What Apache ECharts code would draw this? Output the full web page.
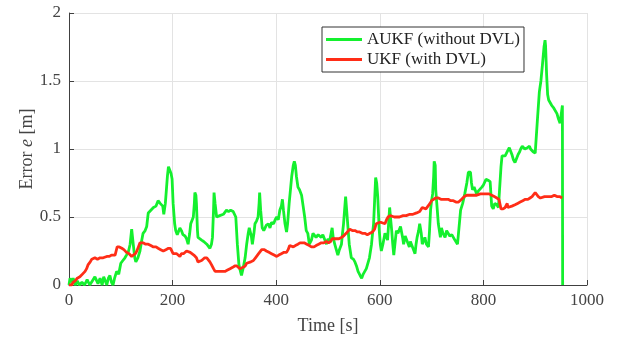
<!DOCTYPE html>
<html>
<head>
<meta charset="utf-8">
<script src="https://cdn.jsdelivr.net/npm/echarts@6/dist/echarts.min.js"></script>
<style>
  html, body { margin: 0; padding: 0; background: #fff; }
  #chart { width: 622px; height: 337px; }
</style>
</head>
<body>
<div id="chart"></div>
<script>
// AUKF (without DVL): time [s] and error [m]
const aukfT = [0, 2, 5, 8, 12, 16, 20, 25, 30, 35, 40, 45, 50, 53, 56, 60, 64, 67, 70, 73, 76, 79, 82, 85, 88, 92, 96, 100, 104, 108, 111, 115, 118, 121, 124, 127, 129, 133, 137, 140, 143, 147, 150, 153, 158, 163, 168, 172, 176, 179, 181, 183, 186, 188, 190, 192, 195, 197, 199, 201, 204, 206, 209, 211, 214, 217, 220, 224, 227, 230, 233, 235, 238, 240, 242, 243, 245, 246, 248, 249, 252, 256, 260, 263, 266, 269, 272, 275, 277, 279, 280, 282, 285, 288, 291, 294, 298, 301, 304, 308, 312, 317, 320, 322, 325, 328, 331, 333, 336, 340, 343, 346, 348, 350, 352, 354, 357, 359, 362, 365, 367, 368, 370, 373, 376, 378, 381, 385, 388, 391, 395, 398, 401, 404, 407, 410, 412, 414, 417, 420, 422, 425, 428, 430, 433, 435, 437, 439, 442, 445, 449, 452, 455, 458, 461, 464, 468, 471, 474, 477, 481, 484, 487, 490, 494, 497, 500, 503, 506, 508, 510, 513, 516, 519, 522, 526, 528, 530, 532, 534, 536, 537, 539, 541, 543, 545, 549, 552, 555, 558, 562, 565, 568, 571, 574, 577, 580, 584, 586, 588, 590, 592, 594, 596, 599, 601, 603, 606, 610, 613, 615, 617, 619, 621, 623, 625, 627, 630, 632, 635, 637, 640, 642, 644, 646, 649, 652, 655, 657, 659, 661, 664, 668, 670, 672, 675, 677, 680, 682, 685, 687, 690, 694, 696, 698, 700, 702, 704, 705, 707, 708, 710, 711, 713, 715, 717, 719, 722, 726, 729, 732, 735, 739, 742, 745, 748, 750, 753, 756, 760, 764, 768, 771, 775, 777, 779, 782, 784, 787, 790, 793, 797, 800, 805, 809, 813, 816, 819, 822, 826, 829, 831, 834, 836, 839, 842, 846, 850, 853, 855, 858, 861, 864, 867, 870, 872, 875, 877, 880, 882, 885, 889, 891, 893, 896, 900, 902, 904, 908, 911, 914, 917, 919, 920, 922, 924, 926, 929, 932, 936, 939, 942, 945, 948, 951, 952.5, 953];
const aukfE = [0, 0.05, 0.02, 0.05, 0, 0.03, 0, 0.02, 0, 0.04, 0, 0.03, 0.06, 0.07, 0.01, 0.05, 0, 0.06, 0.07, 0, 0.05, 0.07, 0.02, 0, 0.05, 0.1, 0.08, 0.16, 0.18, 0.2, 0.22, 0.25, 0.3, 0.41, 0.3, 0.2, 0.17, 0.2, 0.25, 0.32, 0.38, 0.4, 0.43, 0.53, 0.55, 0.57, 0.58, 0.62, 0.6, 0.61, 0.58, 0.52, 0.6, 0.7, 0.8, 0.87, 0.84, 0.82, 0.78, 0.6, 0.45, 0.4, 0.37, 0.38, 0.42, 0.4, 0.37, 0.36, 0.34, 0.3, 0.38, 0.45, 0.48, 0.5, 0.6, 0.68, 0.66, 0.6, 0.4, 0.35, 0.34, 0.33, 0.32, 0.33, 0.3, 0.31, 0.27, 0.3, 0.35, 0.55, 0.68, 0.6, 0.5, 0.49, 0.51, 0.5, 0.52, 0.53, 0.55, 0.54, 0.55, 0.54, 0.53, 0.5, 0.3, 0.15, 0.1, 0.07, 0.12, 0.2, 0.3, 0.38, 0.42, 0.43, 0.36, 0.3, 0.38, 0.45, 0.47, 0.5, 0.6, 0.68, 0.55, 0.42, 0.4, 0.39, 0.44, 0.45, 0.42, 0.46, 0.45, 0.48, 0.5, 0.48, 0.55, 0.58, 0.63, 0.55, 0.45, 0.39, 0.45, 0.6, 0.72, 0.8, 0.88, 0.91, 0.88, 0.8, 0.72, 0.7, 0.66, 0.58, 0.5, 0.4, 0.38, 0.3, 0.33, 0.38, 0.39, 0.35, 0.37, 0.38, 0.35, 0.37, 0.33, 0.3, 0.34, 0.32, 0.38, 0.42, 0.35, 0.3, 0.26, 0.22, 0.26, 0.3, 0.38, 0.45, 0.55, 0.65, 0.55, 0.5, 0.4, 0.3, 0.25, 0.2, 0.19, 0.17, 0.14, 0.1, 0.07, 0.05, 0.08, 0.1, 0.12, 0.13, 0.2, 0.3, 0.38, 0.45, 0.62, 0.79, 0.75, 0.65, 0.4, 0.3, 0.25, 0.3, 0.38, 0.35, 0.33, 0.45, 0.57, 0.48, 0.4, 0.3, 0.22, 0.33, 0.4, 0.38, 0.37, 0.43, 0.42, 0.35, 0.3, 0.36, 0.35, 0.3, 0.28, 0.32, 0.3, 0.27, 0.23, 0.3, 0.35, 0.4, 0.45, 0.38, 0.3, 0.33, 0.35, 0.3, 0.28, 0.4, 0.55, 0.62, 0.67, 0.8, 0.91, 0.88, 0.7, 0.6, 0.55, 0.45, 0.4, 0.35, 0.42, 0.38, 0.35, 0.4, 0.4, 0.36, 0.37, 0.35, 0.33, 0.32, 0.3, 0.31, 0.55, 0.6, 0.67, 0.75, 0.83, 0.83, 0.75, 0.7, 0.72, 0.72, 0.67, 0.69, 0.7, 0.72, 0.735, 0.777, 0.77, 0.76, 0.58, 0.56, 0.6, 0.59, 0.57, 0.58, 0.87, 0.95, 0.96, 0.95, 0.98, 1.01, 0.98, 0.96, 0.92, 0.9, 0.93, 0.96, 0.98, 1.0, 1.02, 1.03, 1.0, 0.99, 1.01, 1.02, 1.0, 0.99, 0.98, 0.97, 0.97, 1.2, 1.42, 1.5, 1.62, 1.75, 1.8, 1.76, 1.55, 1.4, 1.36, 1.34, 1.32, 1.3, 1.29, 1.26, 1.22, 1.19, 1.18, 1.32, 0];

// UKF (with DVL): time [s] and error [m]
const ukfT = [0, 5, 8, 12, 16, 21, 26, 31, 34, 37, 41, 44, 50, 55, 60, 66, 73, 78, 82, 89, 91, 93, 97, 102, 106, 111, 116, 121, 124, 128, 131, 134, 137, 140, 143, 148, 153, 158, 163, 168, 172, 177, 182, 187, 192, 196, 198, 201, 204, 208, 211, 214, 217, 221, 224, 227, 230, 234, 237, 241, 246, 249, 252, 256, 259, 262, 266, 269, 272, 275, 279, 282, 285, 291, 296, 301, 306, 311, 316, 320, 324, 327, 330, 333, 336, 340, 343, 346, 351, 356, 360, 362, 366, 369, 372, 377, 381, 386, 391, 396, 401, 405, 410, 415, 420, 423, 426, 429, 433, 437, 442, 446, 449, 454, 459, 464, 468, 473, 477, 482, 487, 492, 497, 501, 505, 508, 510, 513, 516, 521, 526, 530, 533, 535, 538, 542, 547, 552, 557, 561, 566, 571, 576, 581, 586, 590, 593, 595, 599, 603, 606, 610, 613, 616, 620, 623, 628, 632, 638, 645, 651, 658, 664, 671, 677, 680, 682, 685, 689, 693, 697, 700, 703, 708, 713, 718, 723, 728, 732, 737, 742, 747, 752, 755, 758, 763, 768, 774, 781, 787, 794, 800, 806, 811, 816, 821, 826, 830, 832, 834, 838, 842, 844, 846, 847, 850, 855, 861, 866, 871, 876, 881, 886, 890, 894, 897, 900, 903, 906, 910, 913, 918, 923, 928, 932, 937, 942, 947, 952];
const ukfE = [0, 0, 0.02, 0.03, 0.05, 0.06, 0.08, 0.1, 0.12, 0.15, 0.17, 0.19, 0.2, 0.19, 0.2, 0.2, 0.21, 0.21, 0.22, 0.22, 0.25, 0.28, 0.28, 0.27, 0.26, 0.24, 0.23, 0.21, 0.2, 0.23, 0.25, 0.28, 0.31, 0.32, 0.31, 0.3, 0.3, 0.29, 0.28, 0.28, 0.27, 0.26, 0.25, 0.26, 0.27, 0.27, 0.26, 0.23, 0.22, 0.23, 0.22, 0.21, 0.23, 0.23, 0.24, 0.25, 0.26, 0.24, 0.23, 0.22, 0.2, 0.17, 0.16, 0.18, 0.19, 0.2, 0.2, 0.19, 0.17, 0.15, 0.12, 0.1, 0.09, 0.1, 0.1, 0.1, 0.11, 0.12, 0.13, 0.14, 0.14, 0.13, 0.12, 0.12, 0.13, 0.14, 0.16, 0.17, 0.17, 0.18, 0.2, 0.21, 0.23, 0.24, 0.26, 0.26, 0.25, 0.24, 0.23, 0.22, 0.21, 0.22, 0.23, 0.24, 0.24, 0.26, 0.29, 0.28, 0.28, 0.29, 0.3, 0.31, 0.31, 0.31, 0.3, 0.29, 0.28, 0.28, 0.29, 0.3, 0.31, 0.31, 0.32, 0.31, 0.32, 0.34, 0.35, 0.34, 0.33, 0.34, 0.35, 0.36, 0.37, 0.38, 0.39, 0.41, 0.4, 0.4, 0.39, 0.39, 0.38, 0.38, 0.37, 0.38, 0.39, 0.41, 0.45, 0.46, 0.46, 0.46, 0.45, 0.45, 0.48, 0.5, 0.51, 0.51, 0.5, 0.5, 0.5, 0.51, 0.51, 0.52, 0.52, 0.53, 0.54, 0.55, 0.57, 0.57, 0.56, 0.58, 0.6, 0.62, 0.63, 0.64, 0.64, 0.63, 0.63, 0.63, 0.63, 0.62, 0.62, 0.61, 0.61, 0.62, 0.63, 0.65, 0.66, 0.66, 0.66, 0.66, 0.67, 0.67, 0.67, 0.67, 0.66, 0.65, 0.64, 0.63, 0.62, 0.56, 0.56, 0.57, 0.57, 0.6, 0.57, 0.58, 0.58, 0.59, 0.6, 0.61, 0.62, 0.63, 0.63, 0.64, 0.65, 0.66, 0.68, 0.67, 0.65, 0.64, 0.64, 0.65, 0.65, 0.65, 0.65, 0.66, 0.65, 0.65, 0.64];

const seriesNames = ['AUKF (without DVL)', 'UKF (with DVL)'];
const xTicks = [0, 200, 400, 600, 800, 1000];
const yTicks = [0, 0.5, 1, 1.5, 2];

const serif = '"Liberation Serif", "DejaVu Serif", serif';
const axisColor = '#404040';

let myChart = echarts.init(document.getElementById('chart'));
myChart.setOption({
  animation: false,
  backgroundColor: '#fff',
  grid: { left: 69, right: 35, top: 13, bottom: 52, outerBoundsMode: 'none', containLabel: false },
  legend: {
    orient: 'vertical',
    left: 322,
    top: 27,
    padding: [4, 4, 4, 4],
    itemGap: 3,
    itemWidth: 36,
    itemHeight: 3,
    icon: 'rect',
    borderColor: '#333',
    borderWidth: 1,
    backgroundColor: '#fff',
    textStyle: { fontFamily: serif, fontSize: 17, color: '#222' },
    data: seriesNames
  },
  xAxis: {
    type: 'value',
    min: xTicks[0],
    max: xTicks[xTicks.length - 1],
    interval: 200,
    name: 'Time [s]',
    nameLocation: 'middle',
    nameGap: 32,
    nameTextStyle: { fontFamily: serif, fontSize: 18, color: '#444' },
    axisLine: { show: true, lineStyle: { color: axisColor, width: 1 } },
    axisTick: { inside: true, length: 5, lineStyle: { color: axisColor } },
    axisLabel: { fontFamily: serif, fontSize: 17, color: '#444', margin: 7, formatter: v => String(v) },
    splitLine: { show: true, lineStyle: { color: '#e3e3e3', width: 1 } }
  },
  yAxis: {
    type: 'value',
    min: yTicks[0],
    max: yTicks[yTicks.length - 1],
    interval: 0.5,
    name: '{a|Error }{i|e}{a| [m]}',
    nameLocation: 'middle',
    nameGap: 33,
    nameMoveOverlap: false,
    nameTextStyle: {
      fontFamily: serif, fontSize: 18, color: '#444',
      rich: {
        a: { fontFamily: serif, fontSize: 18, color: '#444' },
        i: { fontFamily: serif, fontSize: 18, color: '#444', fontStyle: 'italic' }
      }
    },
    axisLine: { show: true, lineStyle: { color: axisColor, width: 1 } },
    axisTick: { inside: true, length: 5, lineStyle: { color: axisColor } },
    axisLabel: { fontFamily: serif, fontSize: 17, color: '#444', margin: 8, formatter: v => String(v) },
    splitLine: { show: true, lineStyle: { color: '#e3e3e3', width: 1 } }
  },
  series: [
    {
      name: seriesNames[0],
      type: 'line',
      showSymbol: false,
      color: '#14f02e',
      lineStyle: { width: 2.8 },
      data: aukfT.map((t, i) => [t, aukfE[i]])
    },
    {
      name: seriesNames[1],
      type: 'line',
      showSymbol: false,
      color: '#ff2d17',
      lineStyle: { width: 2.8 },
      data: ukfT.map((t, i) => [t, ukfE[i]])
    }
  ]
});
</script>
</body>
</html>
